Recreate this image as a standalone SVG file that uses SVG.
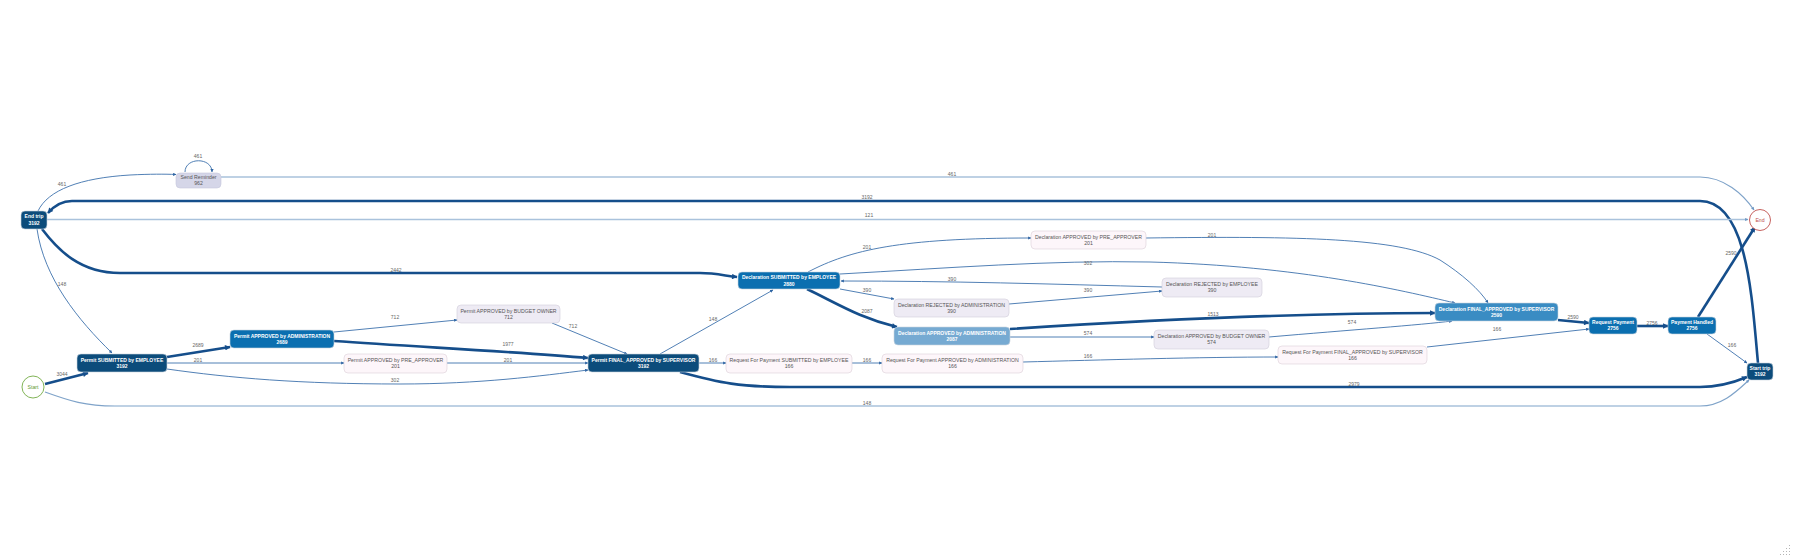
<svg xmlns="http://www.w3.org/2000/svg" width="1793" height="558" viewBox="0 0 1793 558">
<style>
.bg{fill:#ffffff}
.e{fill:none;stroke:#3d72ad;stroke-width:0.9}
.et{fill:none;stroke:#154e8b;stroke-width:2.6}
.el{fill:none;stroke:#a9c2dc;stroke-width:1.6}
.em{fill:none;stroke:#7fa3c9;stroke-width:1.2}
.lbl{font-family:"Liberation Sans",Arial,sans-serif;font-size:5px;fill:#666;text-anchor:middle}
.nt{font-family:"Liberation Sans",Arial,sans-serif;font-size:5.2px;fill:#555;text-anchor:middle}
.ntd{font-family:"Liberation Sans",Arial,sans-serif;font-size:5px;font-weight:bold;fill:#ffffff;text-anchor:middle}
.dark{fill:#0c4c7b;stroke:#c9d3dd;stroke-width:0.6}
.mid{fill:#0b6fb0;stroke:#c9d3dd;stroke-width:0.6}
.fin{fill:#3a8cc3;stroke:#c9d3dd;stroke-width:0.6}
.pale{fill:#76aad2;stroke:#c9d3dd;stroke-width:0.6}
.lav{fill:#d5d6e8;stroke:#c6c7dc;stroke-width:0.6}
.lav2{fill:#eeebf4;stroke:#d2cdda;stroke-width:0.6}
.pink{fill:#fdf6fa;stroke:#dcd0d8;stroke-width:0.6}
</style>
<defs>
<marker id="as" viewBox="0 0 10 10" refX="9" refY="5" markerWidth="4" markerHeight="3.2" markerUnits="userSpaceOnUse" orient="auto"><path d="M0,0 L10,5 L0,10 z" fill="#2f65a3"/></marker>
<marker id="al" viewBox="0 0 10 10" refX="9" refY="5" markerWidth="7" markerHeight="5.5" markerUnits="userSpaceOnUse" orient="auto"><path d="M0,0 L10,5 L0,10 z" fill="#154e8b"/></marker>
<marker id="ap" viewBox="0 0 10 10" refX="9" refY="5" markerWidth="4" markerHeight="3.2" markerUnits="userSpaceOnUse" orient="auto"><path d="M0,0 L10,5 L0,10 z" fill="#6e97c4"/></marker>
</defs>
<rect class="bg" x="0" y="0" width="1793" height="558"/>

<g id="connectors">
<path class="et" d="M45,384 L88,373" marker-end="url(#al)"/>
<text class="lbl" x="62" y="375.5">3044</text>
<path class="em" d="M45,392 C70,401 85,406 115,406 L1700,406 C1722,406 1736,392 1749,380" marker-end="url(#ap)"/>
<text class="lbl" x="867" y="404.5">148</text>
<path class="e" d="M37,229 C44,278 78,320 112,353" marker-end="url(#as)"/>
<text class="lbl" x="62" y="285.5">148</text>
<path class="e" d="M38,211 C48,190 80,178 130,175 C150,174 165,174 176,174.5" marker-end="url(#as)"/>
<text class="lbl" x="62" y="185.5">461</text>
<path class="e" d="M185,172 C185,157 212,157 212,172" marker-end="url(#as)"/>
<text class="lbl" x="198" y="157.5">461</text>
<path class="em" d="M221,177 L1700,177 C1724,177 1743,194 1754,210" marker-end="url(#ap)"/>
<text class="lbl" x="952" y="175.5">461</text>
<path class="et" d="M1758,363 C1752,300 1748,201 1700,201 L72,201 C62,201 54,206 48,213" marker-end="url(#al)"/>
<text class="lbl" x="867" y="198.5">3192</text>
<path class="el" d="M47,219.5 L1748,219.5" marker-end="url(#ap)"/>
<text class="lbl" x="869" y="216.5">121</text>
<path class="et" d="M42,229 C58,250 80,273 120,273 L700,273 C716,273 726,276 737,277" marker-end="url(#al)"/>
<text class="lbl" x="396" y="271.5">2442</text>
<path class="et" d="M167,357 L230,347" marker-end="url(#al)"/>
<text class="lbl" x="198" y="346.5">2689</text>
<path class="e" d="M167,363 L344,363" marker-end="url(#as)"/>
<text class="lbl" x="198" y="361.5">201</text>
<path class="e" d="M167,369 C230,378 300,384 400,384 C480,384 540,376 588,370" marker-end="url(#as)"/>
<text class="lbl" x="395" y="381.5">302</text>
<path class="e" d="M334,332 L457,320" marker-end="url(#as)"/>
<text class="lbl" x="395" y="318.5">712</text>
<path class="et" d="M334,341 C420,347 520,352 588,358" marker-end="url(#al)"/>
<text class="lbl" x="508" y="345.5">1977</text>
<path class="e" d="M552,323 L627,354" marker-end="url(#as)"/>
<text class="lbl" x="573" y="327.5">712</text>
<path class="e" d="M447,363 L588,363" marker-end="url(#as)"/>
<text class="lbl" x="508" y="361.5">201</text>
<path class="e" d="M660,354 L773,290" marker-end="url(#as)"/>
<text class="lbl" x="713" y="320.5">148</text>
<path class="e" d="M699,363 L726,363" marker-end="url(#as)"/>
<text class="lbl" x="713" y="361.5">166</text>
<path class="et" d="M680,372 C720,383 740,387 790,387 L1700,387 C1720,387 1735,382 1747,377" marker-end="url(#al)"/>
<text class="lbl" x="1354" y="385.5">2979</text>
<path class="e" d="M808,272 C850,250 900,238 1031,238" marker-end="url(#as)"/>
<text class="lbl" x="867" y="248.5">201</text>
<path class="e" d="M840,274 C950,268 1050,260 1150,262 C1300,266 1400,290 1455,303" marker-end="url(#as)"/>
<text class="lbl" x="1088" y="264.5">302</text>
<path class="e" d="M1162,287 C1050,284 950,281 841,281" marker-end="url(#as)"/>
<text class="lbl" x="952" y="280.5">390</text>
<path class="e" d="M840,289 L894,299" marker-end="url(#as)"/>
<text class="lbl" x="867" y="291.5">390</text>
<path class="e" d="M1009,304 L1162,291" marker-end="url(#as)"/>
<text class="lbl" x="1088" y="291.5">390</text>
<path class="et" d="M807,289 C840,305 860,318 897,327" marker-end="url(#al)"/>
<text class="lbl" x="867" y="312.5">2087</text>
<path class="et" d="M1010,329 C1150,320 1300,313 1435,313" marker-end="url(#al)"/>
<text class="lbl" x="1213" y="315.5">1513</text>
<path class="e" d="M1010,337 L1154,337" marker-end="url(#as)"/>
<text class="lbl" x="1088" y="334.5">574</text>
<path class="e" d="M1269,337 C1350,330 1420,325 1452,321" marker-end="url(#as)"/>
<text class="lbl" x="1352" y="323.5">574</text>
<path class="e" d="M1146,238 C1300,236 1400,238 1440,260 C1462,274 1480,290 1488,303" marker-end="url(#as)"/>
<text class="lbl" x="1212" y="236.5">201</text>
<path class="et" d="M1558,320 L1589,323" marker-end="url(#al)"/>
<text class="lbl" x="1573" y="318.5">2590</text>
<path class="e" d="M852,363 L882,363" marker-end="url(#as)"/>
<text class="lbl" x="867" y="361.5">166</text>
<path class="e" d="M1023,362 C1100,360 1200,357 1278,357" marker-end="url(#as)"/>
<text class="lbl" x="1088" y="357.5">166</text>
<path class="e" d="M1427,347 L1589,329" marker-end="url(#as)"/>
<text class="lbl" x="1497" y="330.5">166</text>
<path class="et" d="M1637,326 L1668,326" marker-end="url(#al)"/>
<text class="lbl" x="1652" y="324.5">2756</text>
<path class="et" d="M1698,317 L1755,227" marker-end="url(#al)"/>
<text class="lbl" x="1731" y="254.5">2590</text>
<path class="e" d="M1707,334 L1747,363" marker-end="url(#as)"/>
<text class="lbl" x="1732" y="346.5">166</text>
</g>

<g id="node-start"><circle cx="33" cy="387" r="11" fill="#fff" stroke="#74ac45" stroke-width="0.9"/><text x="33" y="389" font-family="Liberation Sans, Arial, sans-serif" font-size="5.2" fill="#5e9c36" text-anchor="middle">Start</text></g>
<g id="node-end"><circle cx="1760" cy="220" r="10.5" fill="#fff" stroke="#c0504d" stroke-width="0.9"/><text x="1760" y="222" font-family="Liberation Sans, Arial, sans-serif" font-size="5.2" fill="#c0504d" text-anchor="middle">End</text></g>

<g id="node-end-trip"><rect class="dark" x="21" y="211" width="26" height="18" rx="4"/><text class="ntd" x="34" y="218.3">End trip</text><text class="ntd" x="34" y="224.8">3192</text></g>
<g id="node-start-trip"><rect class="dark" x="1747" y="363" width="26" height="17" rx="4"/><text class="ntd" x="1760" y="370">Start trip</text><text class="ntd" x="1760" y="376.3">3192</text></g>
<g id="node-send-reminder"><rect class="lav" x="176" y="173" width="45" height="15" rx="4"/><text class="nt" x="198.5" y="179">Send Reminder</text><text class="nt" x="198.5" y="185.3">962</text></g>
<g id="node-permit-submitted"><rect class="dark" x="77" y="354" width="90" height="18" rx="4"/><text class="ntd" x="122" y="361.8">Permit SUBMITTED by EMPLOYEE</text><text class="ntd" x="122" y="368">3192</text></g>
<g id="node-permit-approved-admin"><rect class="mid" x="230" y="330" width="104" height="18" rx="4"/><text class="ntd" x="282" y="337.5">Permit APPROVED by ADMINISTRATION</text><text class="ntd" x="282" y="343.8">2689</text></g>
<g id="node-permit-approved-pre"><rect class="pink" x="344" y="354" width="103" height="19" rx="4"/><text class="nt" x="395.5" y="361.8">Permit APPROVED by PRE_APPROVER</text><text class="nt" x="395.5" y="368.3">201</text></g>
<g id="node-permit-approved-budget"><rect class="lav2" x="457" y="305" width="103" height="18" rx="4"/><text class="nt" x="508.5" y="312.5">Permit APPROVED by BUDGET OWNER</text><text class="nt" x="508.5" y="318.8">712</text></g>
<g id="node-permit-final"><rect class="dark" x="588" y="354" width="111" height="18" rx="4"/><text class="ntd" x="643.5" y="361.8">Permit FINAL_APPROVED by SUPERVISOR</text><text class="ntd" x="643.5" y="368">3192</text></g>
<g id="node-decl-submitted"><rect class="mid" x="738" y="272" width="102" height="17" rx="4"/><text class="ntd" x="789" y="279.3">Declaration SUBMITTED by EMPLOYEE</text><text class="ntd" x="789" y="285.5">2880</text></g>
<g id="node-decl-approved-pre"><rect class="pink" x="1031" y="231" width="115" height="18" rx="4"/><text class="nt" x="1088.5" y="238.5">Declaration APPROVED by PRE_APPROVER</text><text class="nt" x="1088.5" y="244.8">201</text></g>
<g id="node-decl-rejected-admin"><rect class="lav2" x="894" y="299" width="115" height="18" rx="4"/><text class="nt" x="951.5" y="306.5">Declaration REJECTED by ADMINISTRATION</text><text class="nt" x="951.5" y="312.8">390</text></g>
<g id="node-decl-approved-admin"><rect class="pale" x="894" y="327" width="116" height="18" rx="4"/><text class="ntd" x="952" y="334.5">Declaration APPROVED by ADMINISTRATION</text><text class="ntd" x="952" y="340.8">2087</text></g>
<g id="node-decl-rejected-employee"><rect class="lav2" x="1162" y="278" width="100" height="19" rx="4"/><text class="nt" x="1212" y="285.8">Declaration REJECTED by EMPLOYEE</text><text class="nt" x="1212" y="292.3">390</text></g>
<g id="node-decl-approved-budget"><rect class="lav2" x="1154" y="330" width="115" height="19" rx="4"/><text class="nt" x="1211.5" y="337.8">Declaration APPROVED by BUDGET OWNER</text><text class="nt" x="1211.5" y="344.3">574</text></g>
<g id="node-decl-final"><rect class="fin" x="1435" y="303" width="123" height="18" rx="4"/><text class="ntd" x="1496.5" y="310.5">Declaration FINAL_APPROVED by SUPERVISOR</text><text class="ntd" x="1496.5" y="316.8">2590</text></g>
<g id="node-rfp-submitted"><rect class="pink" x="726" y="354" width="126" height="19" rx="4"/><text class="nt" x="789" y="361.8">Request For Payment SUBMITTED by EMPLOYEE</text><text class="nt" x="789" y="368.3">166</text></g>
<g id="node-rfp-approved-admin"><rect class="pink" x="882" y="354" width="141" height="19" rx="4"/><text class="nt" x="952.5" y="361.8">Request For Payment APPROVED by ADMINISTRATION</text><text class="nt" x="952.5" y="368.3">166</text></g>
<g id="node-rfp-final"><rect class="pink" x="1278" y="346" width="149" height="18" rx="4"/><text class="nt" x="1352.5" y="353.5">Request For Payment FINAL_APPROVED by SUPERVISOR</text><text class="nt" x="1352.5" y="359.8">166</text></g>
<g id="node-request-payment"><rect class="mid" x="1589" y="317" width="48" height="17" rx="4"/><text class="ntd" x="1613" y="324">Request Payment</text><text class="ntd" x="1613" y="330.3">2756</text></g>
<g id="node-payment-handled"><rect class="mid" x="1668" y="317" width="48" height="17" rx="4"/><text class="ntd" x="1692" y="324">Payment Handled</text><text class="ntd" x="1692" y="330.3">2756</text></g>

<g id="resize-grip" fill="#b5b5b5">
<rect x="1789" y="545" width="1" height="1"/><rect x="1786" y="548" width="1" height="1"/><rect x="1789" y="548" width="1" height="1"/>
<rect x="1783" y="551" width="1" height="1"/><rect x="1786" y="551" width="1" height="1"/><rect x="1789" y="551" width="1" height="1"/>
<rect x="1780" y="554" width="1" height="1"/><rect x="1783" y="554" width="1" height="1"/><rect x="1786" y="554" width="1" height="1"/><rect x="1789" y="554" width="1" height="1"/>
</g>
</svg>
